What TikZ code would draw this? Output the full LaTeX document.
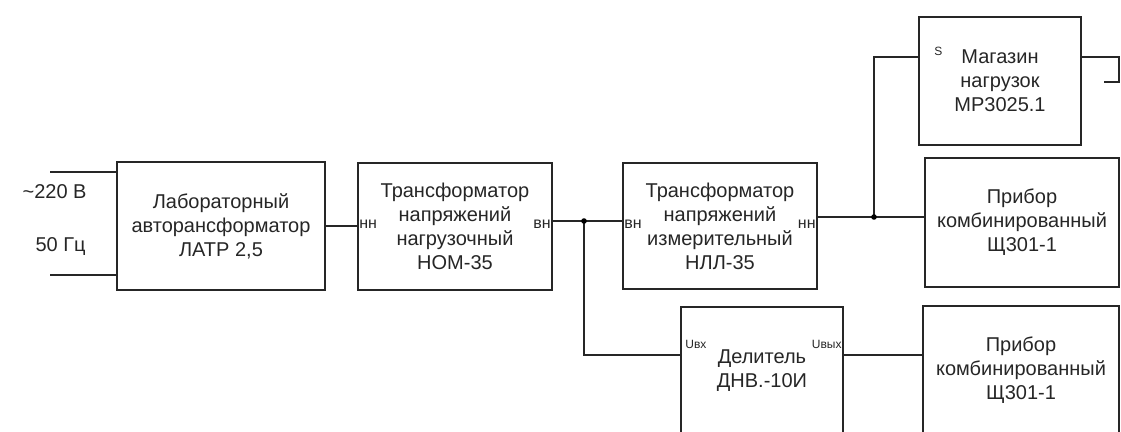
\documentclass[tikz,border=0pt]{standalone}
\usepackage{fontspec}
\setmainfont{Liberation Sans}
\usetikzlibrary{positioning}

\begin{document}
\begin{tikzpicture}[x=0.5pt, y=-0.5pt,
    box/.style={draw=black!85, line width=1pt, rectangle, align=center, inner sep=0pt, text=black!85, font=\fontsize{10}{12}\selectfont},
    port/.style={inner sep=1pt, text=black!85, font=\fontsize{8}{9}\selectfont},
    wire/.style={draw=black!85, line width=0.8pt}]
    \useasboundingbox (0,0) rectangle (1121,432);
    \clip (0,0) rectangle (1121,432);

    % Nodes
    \node (latr) [box, minimum width=104pt, minimum height=64pt] at (221,226) {Лабораторный\\авторансформатор\\ЛАТР 2,5};
    \node (nom) [box, minimum width=97pt, minimum height=63.5pt] at (455,226.5) {Трансформатор\\напряжений\\нагрузочный\\НОМ-35};
    \node (nll) [box, minimum width=97pt, minimum height=63pt] at (720,226) {Трансформатор\\напряжений\\измерительный\\НЛЛ-35};
    \node (mag) [box, minimum width=81pt, minimum height=64pt] at (1000,81) {Магазин\\нагрузок\\МР3025.1};
    \node (prib1) [box, minimum width=97pt, minimum height=64.5pt] at (1022,222.5) {Прибор\\комбинированный\\Щ301-1};
    \node (prib2) [box, minimum width=98pt, minimum height=64pt] at (1021,370) {Прибор\\комбинированный\\Щ301-1};
    \node (del) [box, minimum width=81pt, minimum height=64pt] at (762,371) {Делитель\\ДНВ.-10И};

    % Labels
    \node (volt) [anchor=east, inner sep=0pt, text=black!85, font=\fontsize{10}{12}\selectfont] at (87,192) {\textasciitilde220 В};
    \node (freq) [anchor=east, inner sep=0pt, text=black!85, font=\fontsize{10}{12}\selectfont] at (86,247) {50 Гц};
    \node (nomin) [port, anchor=west] at ([yshift=1pt]nom.west) {нн};
    \node (nomout) [port, anchor=east] at ([yshift=1pt]nom.east) {вн};
    \node (nllin) [port, anchor=west] at ([yshift=1pt]nll.west) {вн};
    \node (nllout) [port, anchor=east] at ([yshift=1pt]nll.east) {нн};
    \node (mags) [port, anchor=south west, font=\fontsize{6}{7}\selectfont] at ([xshift=7pt,yshift=11.5pt]mag.west) {S};
    \node (delin) [port, anchor=south west, font=\fontsize{6}{7}\selectfont] at ([xshift=1.5pt,yshift=10pt]del.west) {Uвх};
    \node (delout) [port, anchor=south east, font=\fontsize{6}{7}\selectfont] at ([yshift=10pt]del.east) {Uвых};

    % Points
    \coordinate (in1) at (50,172);
    \coordinate (in2) at (50,275);
    \coordinate (j1) at (584,221);
    \coordinate (j2) at (874,217);
    \coordinate (magend) at (1104,82);

    % Wires
    \draw[wire] (in1) -- (in1 -| latr.west);
    \draw[wire] (in2) -- (in2 -| latr.west);
    \draw[wire] (latr.east) -- (latr.east -| nom.west);
    \draw[wire] (nom.east |- j1) -- (j1) -- (j1 -| nll.west);
    \draw[wire] (nll.east |- j2) -- (j2) -- (j2 -| prib1.west);
    \draw[wire] (j2) |- ([yshift=12pt]mag.west);
    \draw[wire] ([yshift=12pt]mag.east) -- ++(37,0) |- (magend);
    \draw[wire] (j1) |- ([yshift=8pt]del.west);
    \draw[wire] ([yshift=8pt]del.east) -- ([yshift=8pt]del.east -| prib2.west);
    \fill[black] (j1) circle[radius=1.4pt];
    \fill[black] (j2) circle[radius=1.4pt];
\end{tikzpicture}
\end{document}
